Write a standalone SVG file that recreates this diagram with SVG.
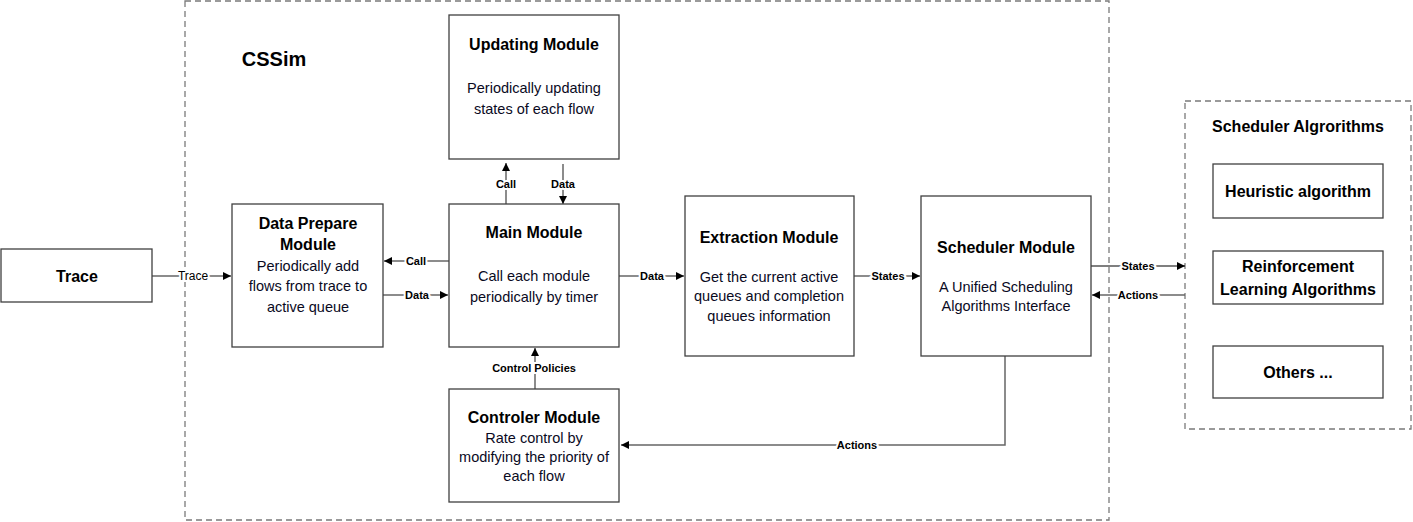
<svg xmlns="http://www.w3.org/2000/svg" width="1413" height="522" viewBox="0 0 1413 522">
<defs>
<style>
.box{fill:#fff;stroke:#404040;stroke-width:1.3}
.dash{fill:none;stroke:#7a7a7a;stroke-width:1.3;stroke-dasharray:6 4}
.ln{fill:none;stroke:#666;stroke-width:1.5}
.lnk{fill:none;stroke:#000;stroke-width:1.2}
.t{font-family:"Liberation Sans",Arial,sans-serif;font-weight:bold;font-size:16px;fill:#000;text-anchor:middle}
.b{font-family:"Liberation Sans",Arial,sans-serif;font-size:14.5px;fill:#0a0a1e;text-anchor:middle}
.l{font-family:"Liberation Sans",Arial,sans-serif;font-weight:bold;font-size:11px;fill:#000;text-anchor:middle;stroke:#fff;stroke-width:4;paint-order:stroke}
</style>
<marker id="ah" viewBox="0 0 10 10" refX="10" refY="5" markerWidth="9" markerHeight="8" markerUnits="userSpaceOnUse" orient="auto">
<path d="M0,0 L10,5 L0,10 z" fill="#000"/>
</marker>
</defs>
<rect width="1413" height="522" fill="#fff"/>
<g id="cssim">
<rect class="dash" x="185" y="1" width="924" height="519"/>
<text class="t" x="274" y="66" style="font-size:20px">CSSim</text>
</g>
<g id="alg-group">
<rect class="dash" x="1185" y="101" width="226" height="328"/>
<text class="t" x="1298" y="132" style="font-size:16px">Scheduler Algrorithms</text>
</g>
<g id="connectors">
<line class="ln" x1="152" y1="276" x2="231" y2="276" marker-end="url(#ah)"/>
<line class="ln" x1="449" y1="261" x2="384" y2="261" marker-end="url(#ah)"/>
<line class="ln" x1="383" y1="295" x2="448" y2="295" marker-end="url(#ah)"/>
<line class="ln" x1="506" y1="204" x2="506" y2="163" marker-end="url(#ah)"/>
<line class="ln" x1="563" y1="164" x2="563" y2="204" marker-end="url(#ah)"/>
<line class="ln" x1="619" y1="276" x2="684" y2="276" marker-end="url(#ah)"/>
<line class="ln" x1="854" y1="276" x2="920" y2="276" marker-end="url(#ah)"/>
<line class="ln" x1="535" y1="389" x2="535" y2="348" marker-end="url(#ah)"/>
<line class="lnk" x1="1091" y1="266" x2="1185" y2="266" marker-end="url(#ah)"/>
<line class="ln" x1="1185" y1="295" x2="1092" y2="295" marker-end="url(#ah)"/>
<polyline class="ln" points="1005,356 1005,445 621,445" marker-end="url(#ah)"/>
<text class="l" x="193" y="280" style="font-weight:normal;font-size:12px">Trace</text>
<text class="l" x="416" y="265">Call</text>
<text class="l" x="417" y="299">Data</text>
<text class="l" x="506" y="188">Call</text>
<text class="l" x="563" y="188">Data</text>
<text class="l" x="652" y="280">Data</text>
<text class="l" x="888" y="280">States</text>
<text class="l" x="534" y="372">Control Policies</text>
<text class="l" x="1138" y="270">States</text>
<text class="l" x="1138" y="299">Actions</text>
<text class="l" x="857" y="449">Actions</text>
</g>
<g id="trace">
<rect class="box" x="1" y="249" width="151" height="53"/>
<text class="t" x="77" y="282">Trace</text>
</g>
<g id="data-prepare">
<rect class="box" x="232" y="204" width="151" height="143"/>
<text class="t" x="308" y="229">Data Prepare</text>
<text class="t" x="308" y="250">Module</text>
<text class="b" x="308" y="271">Periodically add</text>
<text class="b" x="308" y="291">flows from trace to</text>
<text class="b" x="308" y="312">active queue</text>
</g>
<g id="main">
<rect class="box" x="449" y="204" width="170" height="143"/>
<text class="t" x="534" y="238">Main Module</text>
<text class="b" x="534" y="281">Call each module</text>
<text class="b" x="534" y="302">periodically by timer</text>
</g>
<g id="updating">
<rect class="box" x="449" y="15" width="170" height="144"/>
<text class="t" x="534" y="50">Updating Module</text>
<text class="b" x="534" y="93">Periodically updating</text>
<text class="b" x="534" y="114">states of each flow</text>
</g>
<g id="extraction">
<rect class="box" x="685" y="196" width="169" height="160"/>
<text class="t" x="769" y="243">Extraction Module</text>
<text class="b" x="769" y="282">Get the current active</text>
<text class="b" x="769" y="301">queues and completion</text>
<text class="b" x="769" y="321">queues information</text>
</g>
<g id="scheduler">
<rect class="box" x="921" y="196" width="170" height="160"/>
<text class="t" x="1006" y="253">Scheduler Module</text>
<text class="b" x="1006" y="292">A Unified Scheduling</text>
<text class="b" x="1006" y="311">Algorithms Interface</text>
</g>
<g id="controler">
<rect class="box" x="449" y="389" width="170" height="113"/>
<text class="t" x="534" y="423">Controler Module</text>
<text class="b" x="534" y="443">Rate control by</text>
<text class="b" x="534" y="462">modifying the priority of</text>
<text class="b" x="534" y="481">each flow</text>
</g>
<g id="heuristic">
<rect class="box" x="1213" y="164" width="170" height="54"/>
<text class="t" x="1298" y="197">Heuristic algorithm</text>
</g>
<g id="rl">
<rect class="box" x="1213" y="251" width="170" height="53"/>
<text class="t" x="1298" y="272">Reinforcement</text>
<text class="t" x="1298" y="295">Learning Algorithms</text>
</g>
<g id="others">
<rect class="box" x="1213" y="346" width="170" height="52"/>
<text class="t" x="1298" y="378">Others ...</text>
</g>
</svg>
